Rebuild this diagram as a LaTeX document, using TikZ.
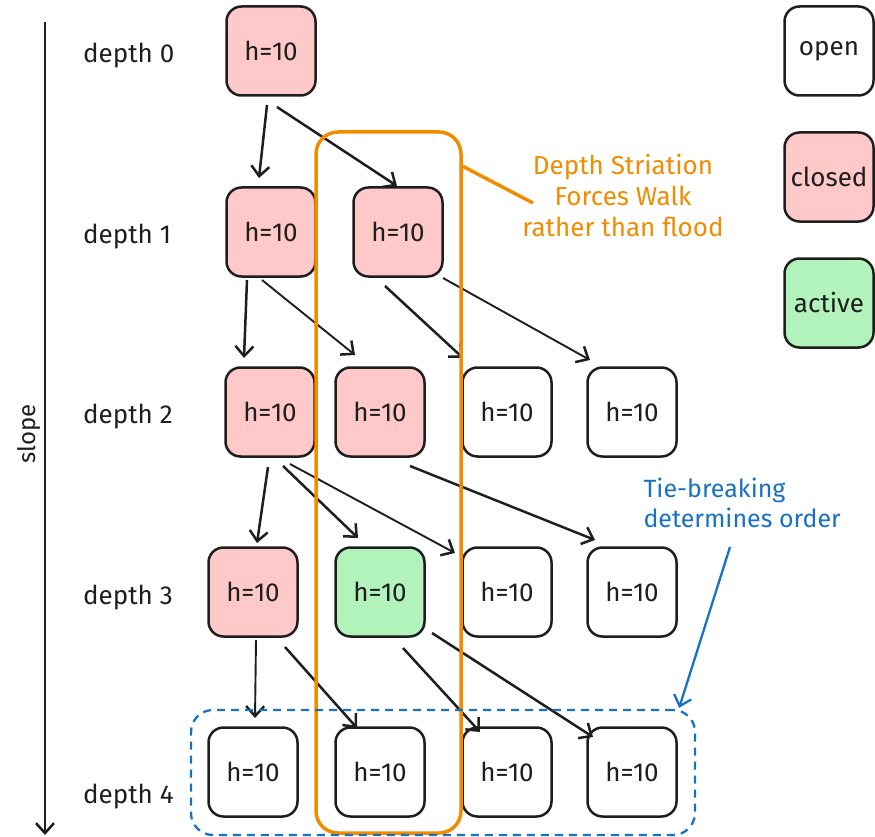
\documentclass[tikz,border=0pt]{standalone}
\usepackage{fontspec}
\setmainfont{Fira Sans}
\usetikzlibrary{arrows.meta,calc}
\definecolor{ink}{HTML}{1E1E1E}
\definecolor{closedfill}{HTML}{FFC9C9}
\definecolor{activefill}{HTML}{B2F2BB}
\definecolor{striation}{HTML}{F08C00}
\definecolor{tiecol}{HTML}{1971C2}
\tikzset{
  state/.style={draw=ink, line width=2.5pt, rounded corners=15pt,
    minimum width=89pt, minimum height=89pt, inner sep=0pt,
    font=\fontsize{26}{30}\selectfont, text=ink},
  openst/.style={state, fill=white},
  closedst/.style={state, fill=closedfill},
  activest/.style={state, fill=activefill},
  lbl/.style={font=\fontsize{26}{30}\selectfont, text=ink, anchor=west, inner sep=0pt},
  edge/.style={draw=ink, line width=2.5pt, -{Straight Barb[length=10pt,width=18pt,line width=2.5pt]}},
  thinedge/.style={edge, line width=1.9pt},
}
\begin{document}
\begin{tikzpicture}[x=1pt, y=-1pt]
\useasboundingbox (0,0) rectangle (875,837);

% slope axis
\coordinate (slopetop) at (45,22);
\coordinate (slopebot) at (45,835);
\draw[edge] (slopetop) -- (slopebot);
\node[rotate=90, font=\fontsize{24}{28}\selectfont, text=ink] (slope) at (29,434) {slope};

% depth labels
\node[lbl] (l0) at (83,56) {depth 0};
\node[lbl] (l1) at (83,237) {depth 1};
\node[lbl] (l2) at (83,417) {depth 2};
\node[lbl] (l3) at (83,598) {depth 3};
\node[lbl] (l4) at (83,797) {depth 4};

% search tree
\node[closedst] (d0)  at (271,51)  {h=10};
\node[closedst] (d1a) at (271,232) {h=10};
\node[closedst] (d1b) at (398,232) {h=10};
\node[closedst] (d2a) at (270,412) {h=10};
\node[closedst] (d2b) at (380,412) {h=10};
\node[openst]   (d2c) at (507,412) {h=10};
\node[openst]   (d2d) at (632,412) {h=10};
\node[closedst] (d3a) at (253,592) {h=10};
\node[activest] (d3b) at (380,592) {h=10};
\node[openst]   (d3c) at (507,592) {h=10};
\node[openst]   (d3d) at (632,592) {h=10};
\node[openst]   (d4a) at (253,772) {h=10};
\node[openst]   (d4b) at (380,772) {h=10};
\node[openst]   (d4c) at (507,772) {h=10};
\node[openst]   (d4d) at (632,772) {h=10};

% legend
\node[openst]   (kopen)   at (829,51)  {open};
\node[closedst] (kclosed) at (829,177) {closed};
\node[activest] (kactive) at (829,303) {active};

% expansions
\draw[edge]     ($(d0)+(-4,54)$)   -- ($(d1a)+(-12,-54)$);
\draw[edge]     ($(d0)+(6,56)$)    -- ($(d1b)+(-1,-46)$);
\draw[edge]     ($(d1a)+(-24,48)$) -- ($(d2a)+(-26,-54)$);
\draw[thinedge] ($(d1a)+(-9,48)$)  -- ($(d2b)+(-25,-57)$);
\draw[edge]     ($(d1b)+(-13,54)$) -- ($(d2c)+(-44,-54)$);
\draw[thinedge] ($(d1b)+(45,46)$)  -- ($(d2d)+(-42,-52)$);
\draw[edge]     ($(d2a)+(-2,55)$)  -- ($(d3a)+(4,-49)$);
\draw[edge]     ($(d2a)+(13,54)$)  -- ($(d3b)+(-22,-54)$);
\draw[thinedge] ($(d2a)+(20,52)$)  -- ($(d3c)+(-52,-39)$);
\draw[edge]     ($(d2b)+(30,54)$)  -- ($(d3d)+(-37,-52)$);
\draw[thinedge] ($(d3a)+(3,48)$)   -- ($(d4a)+(2,-54)$);
\draw[edge]     ($(d3a)+(32,55)$)  -- ($(d4b)+(-23,-44)$);
\draw[edge]     ($(d3b)+(23,56)$)  -- ($(d4c)+(-27,-40)$);
\draw[edge]     ($(d3b)+(52,41)$)  -- ($(d4d)+(-39,-35)$);

% depth striation band
\node[draw=striation, line width=3.5pt, rounded corners=22pt,
      minimum width=145pt, minimum height=701pt, inner sep=0pt] (stria) at (388.5,482.5) {};
\node[text=striation, font=\fontsize{26}{31}\selectfont, align=center] (striatxt) at (623,196)
  {Depth Striation\\Forces Walk\\rather than flood};
\coordinate (strialead) at (533,203);
\draw[striation, line width=3.5pt] ($(stria.north east)+(0,36)$) -- (strialead);

% tie-breaking group
\node[draw=tiecol, line width=2.3pt, dash pattern=on 8pt off 6pt, rounded corners=22pt,
      minimum width=504pt, minimum height=125pt, inner sep=0pt] (tie) at (443,772.5) {};
\node[text=tiecol, font=\fontsize{25}{30}\selectfont, align=left, anchor=north west] (tietxt) at (640,474)
  {Tie-breaking\\determines order};
\coordinate (tiestart) at (730,547);
\draw[tiecol, line width=2.3pt, -{Straight Barb[length=10pt,width=18pt,line width=2.3pt]}]
  (tiestart) -- ($(tie.north east)+(-17,-1)$);
\end{tikzpicture}
\end{document}
